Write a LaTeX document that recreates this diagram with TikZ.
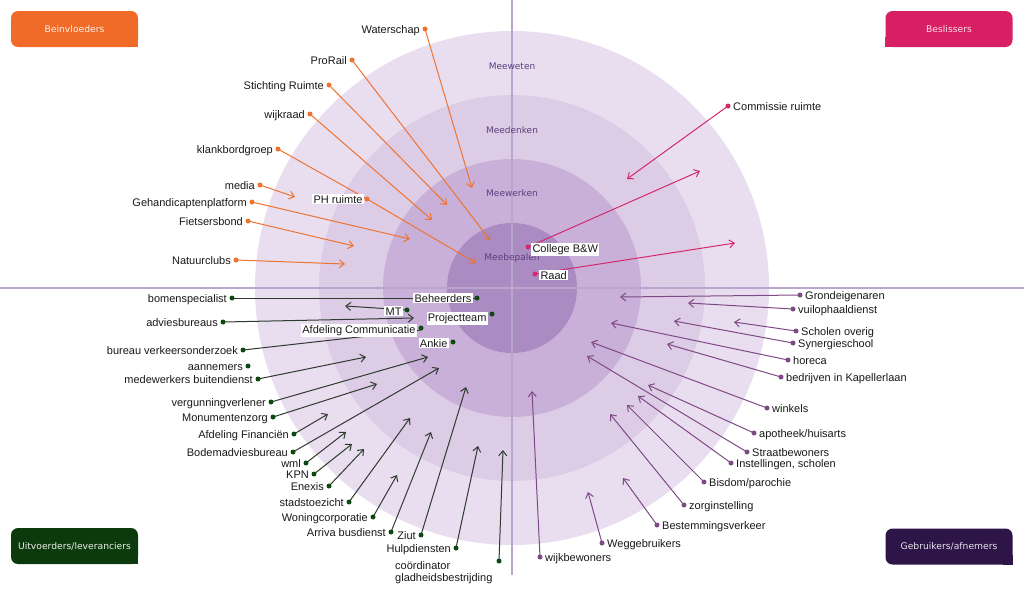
\documentclass[tikz,border=0pt]{standalone}
\usepackage{fontspec}
\setmainfont{Liberation Sans}
\newfontfamily\ringfont{DejaVu Sans}
\usetikzlibrary{arrows.meta}
\definecolor{cOr}{HTML}{EE7330}
\definecolor{cMg}{HTML}{D42A6C}
\definecolor{cGrDot}{HTML}{0D4A12}
\definecolor{cGrLine}{HTML}{2E3B2E}
\definecolor{cPu}{HTML}{7E4A85}
\definecolor{ringA}{HTML}{E9DEF0}
\definecolor{ringB}{HTML}{DDCCE6}
\definecolor{ringC}{HTML}{C9B0D8}
\definecolor{ringD}{HTML}{AA8CC3}
\definecolor{axiscol}{HTML}{B8A6CC}
\definecolor{ringtext}{HTML}{5A3F7E}
\definecolor{boxOr}{HTML}{F06A28}
\definecolor{boxMg}{HTML}{D81F63}
\definecolor{boxGr}{HTML}{0C3A0C}
\definecolor{boxPu}{HTML}{2E1548}
\def\ListOr{Waterschap/425/29/472/188,ProRail/352/60/490/240,Stichting Ruimte/329/85/447/205,wijkraad/310/114/432/220,media/260/185/295/197,Gehandicaptenplatform/252/202/410/239,Fietsersbond/248/221/354/246,Natuurclubs/236/260/345/264}
\def\ListGr{adviesbureaus/223/322/414/318,medewerkers buitendienst/258/379/366/357,vergunningverlener/271/402/428/357,Monumentenzorg/273/417/377/384,Afdeling Financiën/294/434/328/414,Bodemadviesbureau/293/452/439/368,wml/306/463/346/432,KPN/314/474/352/444,Enexis/329/486/364/449,stadstoezicht/349/502/410/418,Woningcorporatie/373/517/397/475,Arriva busdienst/391/532/431/432,Ziut/421/535/466/387,Hulpdiensten/456/548/478/446}
\def\ListPu{Grondeigenaren/800/295/620/297,vuilophaaldienst/793/309/688/303,Scholen overig/796/331/734/322,Synergieschool/793/343/674/321,horeca/788/360/611/323,bedrijven in Kapellerlaan/781/377/667/344,winkels/767/408/591/342,apotheek\slash huisarts/754/433/648/385,Straatbewoners/747/452/587/356,{Instellingen, scholen}/731/463/638/396,Bisdom\slash parochie/704/482/627/405,zorginstelling/684/505/610/414,Bestemmingsverkeer/657/525/623/478,Weggebruikers/602/543/588/492,wijkbewoners/540/557/532/391}
\begin{document}
\begin{tikzpicture}[x=1pt,y=-1pt,
  lbl/.style={font=\fontsize{11}{12}\selectfont, inner sep=1pt, text=black!90},
  lblL/.style={lbl, anchor=base east},
  lblR/.style={lbl, anchor=base west},
  wlblL/.style={lblL, fill=white, inner sep=1.3pt},
  wlblR/.style={lblR, fill=white, inner sep=1.3pt},
  sdot/.style={circle, fill=#1, inner sep=0pt, minimum size=5pt},
  cline/.style={draw=#1, line width=1pt, -{Straight Barb[length=5pt,width=8pt]}},
  pline/.style={draw=#1, line width=1pt},
  ringlbl/.style={font=\ringfont\fontsize{9}{11}\selectfont, text=ringtext},
  cbox/.style={fill=#1, rounded corners=7pt, minimum width=127pt, minimum height=36pt, inner sep=0pt, font=\ringfont\fontsize{9.2}{11}\selectfont},
]
\useasboundingbox (0,0) rectangle (1024,592);
\fill[white] (0,0) rectangle (1024,592);
% rings
\fill[ringA] (512,288) circle (257pt);
\fill[ringB] (512,288) circle (193pt);
\fill[ringC] (512,288) circle (129pt);
\fill[ringD] (512,288) circle (65pt);
% axes
\draw[axiscol, line width=2pt] (0,288) -- (1024,288);
\draw[axiscol, line width=2pt] (512,0) -- (512,575);
% ring labels
\node[ringlbl] (r1) at (512,66) {Meeweten};
\node[ringlbl] (r2) at (512,130) {Meedenken};
\node[ringlbl] (r3) at (512,193) {Meewerken};
\node[ringlbl] (r4) at (512,258) {Meebepalen};
% corner boxes
\node[cbox=boxOr, text=white!88!boxOr] (bInv) at (74.5,29) {Beinvloeders};
\fill[boxOr] (bInv.south east) rectangle ++(-10pt,10pt);
\node[cbox=boxMg, text=white!85!boxMg] (bBes) at (949,29) {Beslissers};
\fill[boxMg] (bBes.south west) rectangle ++(10pt,10pt);
\node[cbox=boxGr, text=white!92!boxGr] (bUit) at (74.5,546) {Uitvoerders/leveranciers};
\fill[boxGr] (bUit.south east) rectangle ++(-10pt,10pt);
\node[cbox=boxPu, text=white!88!boxPu] (bGeb) at (949,546.5) {Gebruikers/afnemers};
\fill[boxPu] (bGeb.south east) rectangle ++(-10pt,10pt);

% ---------- phase 1: coordinates and connectors
\foreach \t/\px/\py/\tx/\ty [count=\i] in \ListOr {
  \coordinate (or\i) at (\px,\py);
  \coordinate (ort\i) at (\tx,\ty);
  \draw[cline=cOr] (or\i) -- (ort\i);
}
\foreach \t/\px/\py/\tx/\ty [count=\i] in \ListGr {
  \coordinate (gr\i) at (\px,\py);
  \coordinate (grt\i) at (\tx,\ty);
  \draw[cline=cGrLine] (gr\i) -- (grt\i);
}
\foreach \t/\px/\py/\tx/\ty [count=\i] in \ListPu {
  \coordinate (pu\i) at (\px,\py);
  \coordinate (put\i) at (\tx,\ty);
  \draw[cline=cPu] (pu\i) -- (put\i);
}
% special orange
\coordinate (oK) at (278,149);
\coordinate (oP) at (367,199); \coordinate (oPt) at (476,263);
\draw[pline=cOr] (oK) -- (oP);
\draw[cline=cOr] (oP) -- (oPt);
% magenta
\coordinate (mC) at (728,106); \coordinate (mCt) at (627,179);
\coordinate (mB) at (528,247); \coordinate (mBt) at (700,171);
\coordinate (mR) at (535,274); \coordinate (mRt) at (735,243);
\draw[cline=cMg] (mC) -- (mCt);
\draw[cline=cMg] (mB) -- (mBt);
\draw[cline=cMg] (mR) -- (mRt);
% special green
\coordinate (gBom) at (232,298);
\coordinate (gBeh) at (477,298);
\coordinate (gMT) at (407,310); \coordinate (gMTt) at (345,306);
\coordinate (gPro) at (492,314);
\coordinate (gAfd) at (421,330);
\coordinate (gAnk) at (453,342);
\coordinate (gBur) at (243,350);
\coordinate (gAan) at (248,366);
\coordinate (gCo) at (499,561); \coordinate (gCot) at (503,450);
\draw[pline=cGrLine] (gBom) -- (gBeh);
\draw[pline=cGrLine] (gBur) -- (gAfd);
\draw[cline=cGrLine] (gMT) -- (gMTt);
\draw[cline=cGrLine] (gCo) -- (gCot);

% ---------- phase 2: dots and labels
\foreach \t/\px/\py/\tx/\ty [count=\i] in \ListOr {
  \node[sdot=cOr] (ord\i) at (or\i) {};
  \node[lblL] (orl\i) at ([shift={(-4pt,-4pt)}]or\i) {\t};
}
\foreach \t/\px/\py/\tx/\ty [count=\i] in \ListGr {
  \node[sdot=cGrDot] (grd\i) at (gr\i) {};
  \node[lblL] (grl\i) at ([shift={(-4pt,-4pt)}]gr\i) {\t};
}
\foreach \t/\px/\py/\tx/\ty [count=\i] in \ListPu {
  \node[sdot=cPu] (pud\i) at (pu\i) {};
  \node[lblR] (pul\i) at ([shift={(4pt,-4pt)}]pu\i) {\t};
}
% orange specials
\node[sdot=cOr] (oKd) at (oK) {};
\node[lblL] (oKl) at ([shift={(-4pt,-4pt)}]oK) {klankbordgroep};
\node[sdot=cOr] (oPd) at (oP) {};
\node[wlblL] (oPl) at ([shift={(-3pt,-4pt)}]oP) {PH ruimte};
% magenta
\node[sdot=cMg] (mCd) at (mC) {};
\node[lblR] (mCl) at ([shift={(4pt,-4pt)}]mC) {Commissie ruimte};
\node[sdot=cMg] (mBd) at (mB) {};
\node[wlblR] (mBl) at ([shift={(3pt,-5pt)}]mB) {College B\&W};
\node[sdot=cMg] (mRd) at (mR) {};
\node[wlblR] (mRl) at ([shift={(4pt,-5pt)}]mR) {Raad};
% green specials
\node[sdot=cGrDot] (gBomd) at (gBom) {};
\node[lblL] (gBoml) at ([shift={(-4pt,-4pt)}]gBom) {bomenspecialist};
\node[sdot=cGrDot] (gBurd) at (gBur) {};
\node[lblL] (gBurl) at ([shift={(-4pt,-4pt)}]gBur) {bureau verkeersonderzoek};
\node[sdot=cGrDot] (gAand) at (gAan) {};
\node[lblL] (gAanl) at ([shift={(-4pt,-4pt)}]gAan) {aannemers};
\node[sdot=cGrDot] (gBehd) at (gBeh) {};
\node[wlblL] (gBehl) at ([shift={(-4pt,-4pt)}]gBeh) {Beheerders};
\node[sdot=cGrDot] (gMTd) at (gMT) {};
\node[wlblL] (gMTl) at ([shift={(-4pt,-5pt)}]gMT) {MT};
\node[sdot=cGrDot] (gProd) at (gPro) {};
\node[wlblL] (gProl) at ([shift={(-4pt,-7pt)}]gPro) {Projectteam};
\node[sdot=cGrDot] (gAfdd) at ([yshift=2pt]gAfd) {};
\node[wlblL] (gAfdl) at ([shift={(-4pt,-3pt)}]gAfd) {Afdeling Communicatie};
\node[sdot=cGrDot] (gAnkd) at (gAnk) {};
\node[wlblL] (gAnkl) at ([shift={(-4pt,-5pt)}]gAnk) {Ankie};
\node[sdot=cGrDot] (gCod) at (gCo) {};
\node[lbl, anchor=north west, align=left, inner sep=0pt] (gCol) at (395,561) {coördinator\\gladheidsbestrijding};
\end{tikzpicture}
\end{document}
